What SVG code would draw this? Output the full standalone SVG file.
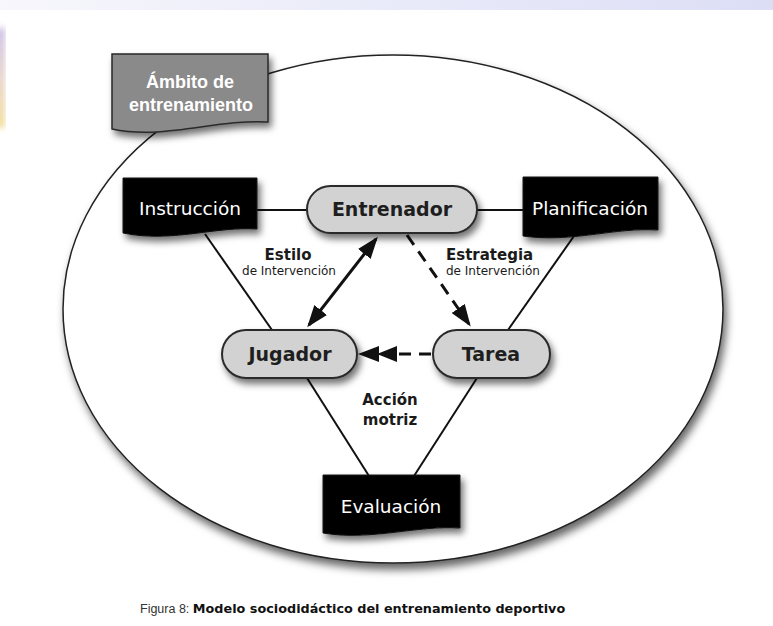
<svg xmlns="http://www.w3.org/2000/svg" width="773" height="626" viewBox="0 0 773 626">
<style>
.pill{fill:#d2d2d2;stroke:#2a2a2a;stroke-width:2}
.doc{fill:#000;stroke:#111;stroke-width:1}
.ptxt{font-family:"DejaVu Sans",Verdana,sans-serif;font-weight:bold;font-size:19px;fill:#1e1e1e;text-anchor:middle}
.dtxt{font-family:"DejaVu Sans",Verdana,sans-serif;font-size:18.5px;fill:#fff;text-anchor:middle}
.lbl{font-family:"DejaVu Sans",Verdana,sans-serif;font-weight:bold;font-size:15px;fill:#1a1a1a}
.sub{font-family:"DejaVu Sans",Verdana,sans-serif;font-size:12px;fill:#1a1a1a}
.ln{stroke:#111;stroke-width:2;fill:none}
.arr{stroke:#111;stroke-width:3;fill:none}
.dash{stroke:#111;stroke-width:3;fill:none;stroke-dasharray:12 8}
</style>
<defs>
<linearGradient id="topg" x1="0" y1="0" x2="1" y2="0">
<stop offset="0" stop-color="#f7f7fc"/>
<stop offset="1" stop-color="#dcdef6"/>
</linearGradient>
<linearGradient id="leftg" x1="0" y1="0" x2="0" y2="1">
<stop offset="0" stop-color="#c9bde6"/>
<stop offset="0.5" stop-color="#e6d2c8"/>
<stop offset="1" stop-color="#f3dc95"/>
</linearGradient>
<filter id="sh" x="-20%" y="-20%" width="150%" height="160%">
<feDropShadow dx="3" dy="5" stdDeviation="3.5" flood-color="#000" flood-opacity="0.55"/>
</filter>
<filter id="shE" x="-10%" y="-10%" width="125%" height="125%">
<feDropShadow dx="3" dy="6" stdDeviation="4" flood-color="#000" flood-opacity="0.6"/>
</filter>
<filter id="blur"><feGaussianBlur stdDeviation="3"/></filter>
<marker id="ah" viewBox="0 0 22 16" refX="19" refY="8" markerWidth="22" markerHeight="16" markerUnits="userSpaceOnUse" orient="auto-start-reverse">
<path d="M0,0 L22,8 L0,16 Z" fill="#111"/>
</marker>
<marker id="ah2" viewBox="0 0 40 16" refX="0" refY="8" markerWidth="40" markerHeight="16" markerUnits="userSpaceOnUse" orient="auto">
<path d="M0,0 L20,8 L0,16 Z M18,0 L39,8 L18,16 Z" fill="#111"/>
</marker>
</defs>

<rect x="0" y="0" width="773" height="626" fill="#fff"/>
<rect x="0" y="0" width="773" height="10" fill="url(#topg)"/>
<rect x="-4" y="28" width="9" height="100" fill="url(#leftg)" filter="url(#blur)"/>

<g id="ambito-ellipse">
<ellipse cx="393" cy="309" rx="330" ry="254" fill="#fff" stroke="#222" stroke-width="1.5" filter="url(#shE)"/>
</g>

<g id="connectors">
<line class="ln" x1="257" y1="210" x2="307" y2="210"/>
<line class="ln" x1="477" y1="210" x2="523" y2="210"/>
<line class="ln" x1="205" y1="234" x2="272" y2="330"/>
<line class="ln" x1="574" y1="236" x2="508" y2="330"/>
<line class="ln" x1="307" y1="378" x2="369" y2="476"/>
<line class="ln" x1="477" y1="378" x2="414" y2="476"/>
<line class="arr" x1="376" y1="239" x2="309" y2="325" marker-start="url(#ah)" marker-end="url(#ah)"/>
<line class="dash" x1="407" y1="235" x2="469" y2="324" marker-end="url(#ah)"/>
<line class="dash" x1="431" y1="354" x2="397" y2="354" stroke-dasharray="11 10" marker-end="url(#ah2)"/>
</g>

<g id="ambito">
<path d="M112,54 H268 V122 C215,119 165,140 112,129 Z" fill="#8a8a8a" stroke="#2a2a2a" stroke-width="1.5" filter="url(#sh)"/>
<text x="190" y="88" font-family="'Liberation Sans',Arial,sans-serif" font-weight="bold" font-size="18" fill="#fff" text-anchor="middle">Ámbito de</text>
<text x="191" y="111" font-family="'Liberation Sans',Arial,sans-serif" font-weight="bold" font-size="18" fill="#fff" text-anchor="middle">entrenamiento</text>
</g>

<g id="instruccion">
<path class="doc" d="M123,178 H257 V229 C215,226 172,243 123,233 Z" filter="url(#sh)"/>
<text class="dtxt" x="190" y="215">Instrucción</text>
</g>

<g id="planificacion">
<path class="doc" d="M523,177 H658 V230 C615,227 572,243 523,236 Z" filter="url(#sh)"/>
<text class="dtxt" x="590" y="215">Planificación</text>
</g>

<g id="evaluacion">
<path class="doc" d="M323,475 H460 V528 C417,525 372,541 323,533 Z" filter="url(#sh)"/>
<text class="dtxt" x="391" y="513">Evaluación</text>
</g>

<g id="entrenador">
<rect class="pill" x="307" y="186" width="170" height="47" rx="23.5" filter="url(#sh)"/>
<text class="ptxt" x="392" y="216">Entrenador</text>
</g>

<g id="jugador">
<rect class="pill" x="222" y="330" width="135" height="48" rx="24" filter="url(#sh)"/>
<text class="ptxt" x="290" y="361">Jugador</text>
</g>

<g id="tarea">
<rect class="pill" x="433" y="330" width="117" height="48" rx="24" filter="url(#sh)"/>
<text class="ptxt" x="491" y="361">Tarea</text>
</g>

<g id="labels">
<text class="lbl" x="288" y="260" text-anchor="middle">Estilo</text>
<text class="sub" x="289" y="275" text-anchor="middle">de Intervención</text>
<text class="lbl" x="446" y="260">Estrategia</text>
<text class="sub" x="446" y="275">de Intervención</text>
<text class="lbl" x="390" y="405" text-anchor="middle">Acción</text>
<text class="lbl" x="390" y="425" text-anchor="middle">motriz</text>
</g>

<g id="caption">
<text x="140" y="613"><tspan font-family="'Liberation Sans',Arial,sans-serif" font-size="12.5" fill="#333">Figura 8: </tspan><tspan font-family="'DejaVu Sans',Verdana,sans-serif" font-size="12.8" font-weight="bold" fill="#111">Modelo sociodidáctico del entrenamiento deportivo</tspan></text>
</g>
</svg>
